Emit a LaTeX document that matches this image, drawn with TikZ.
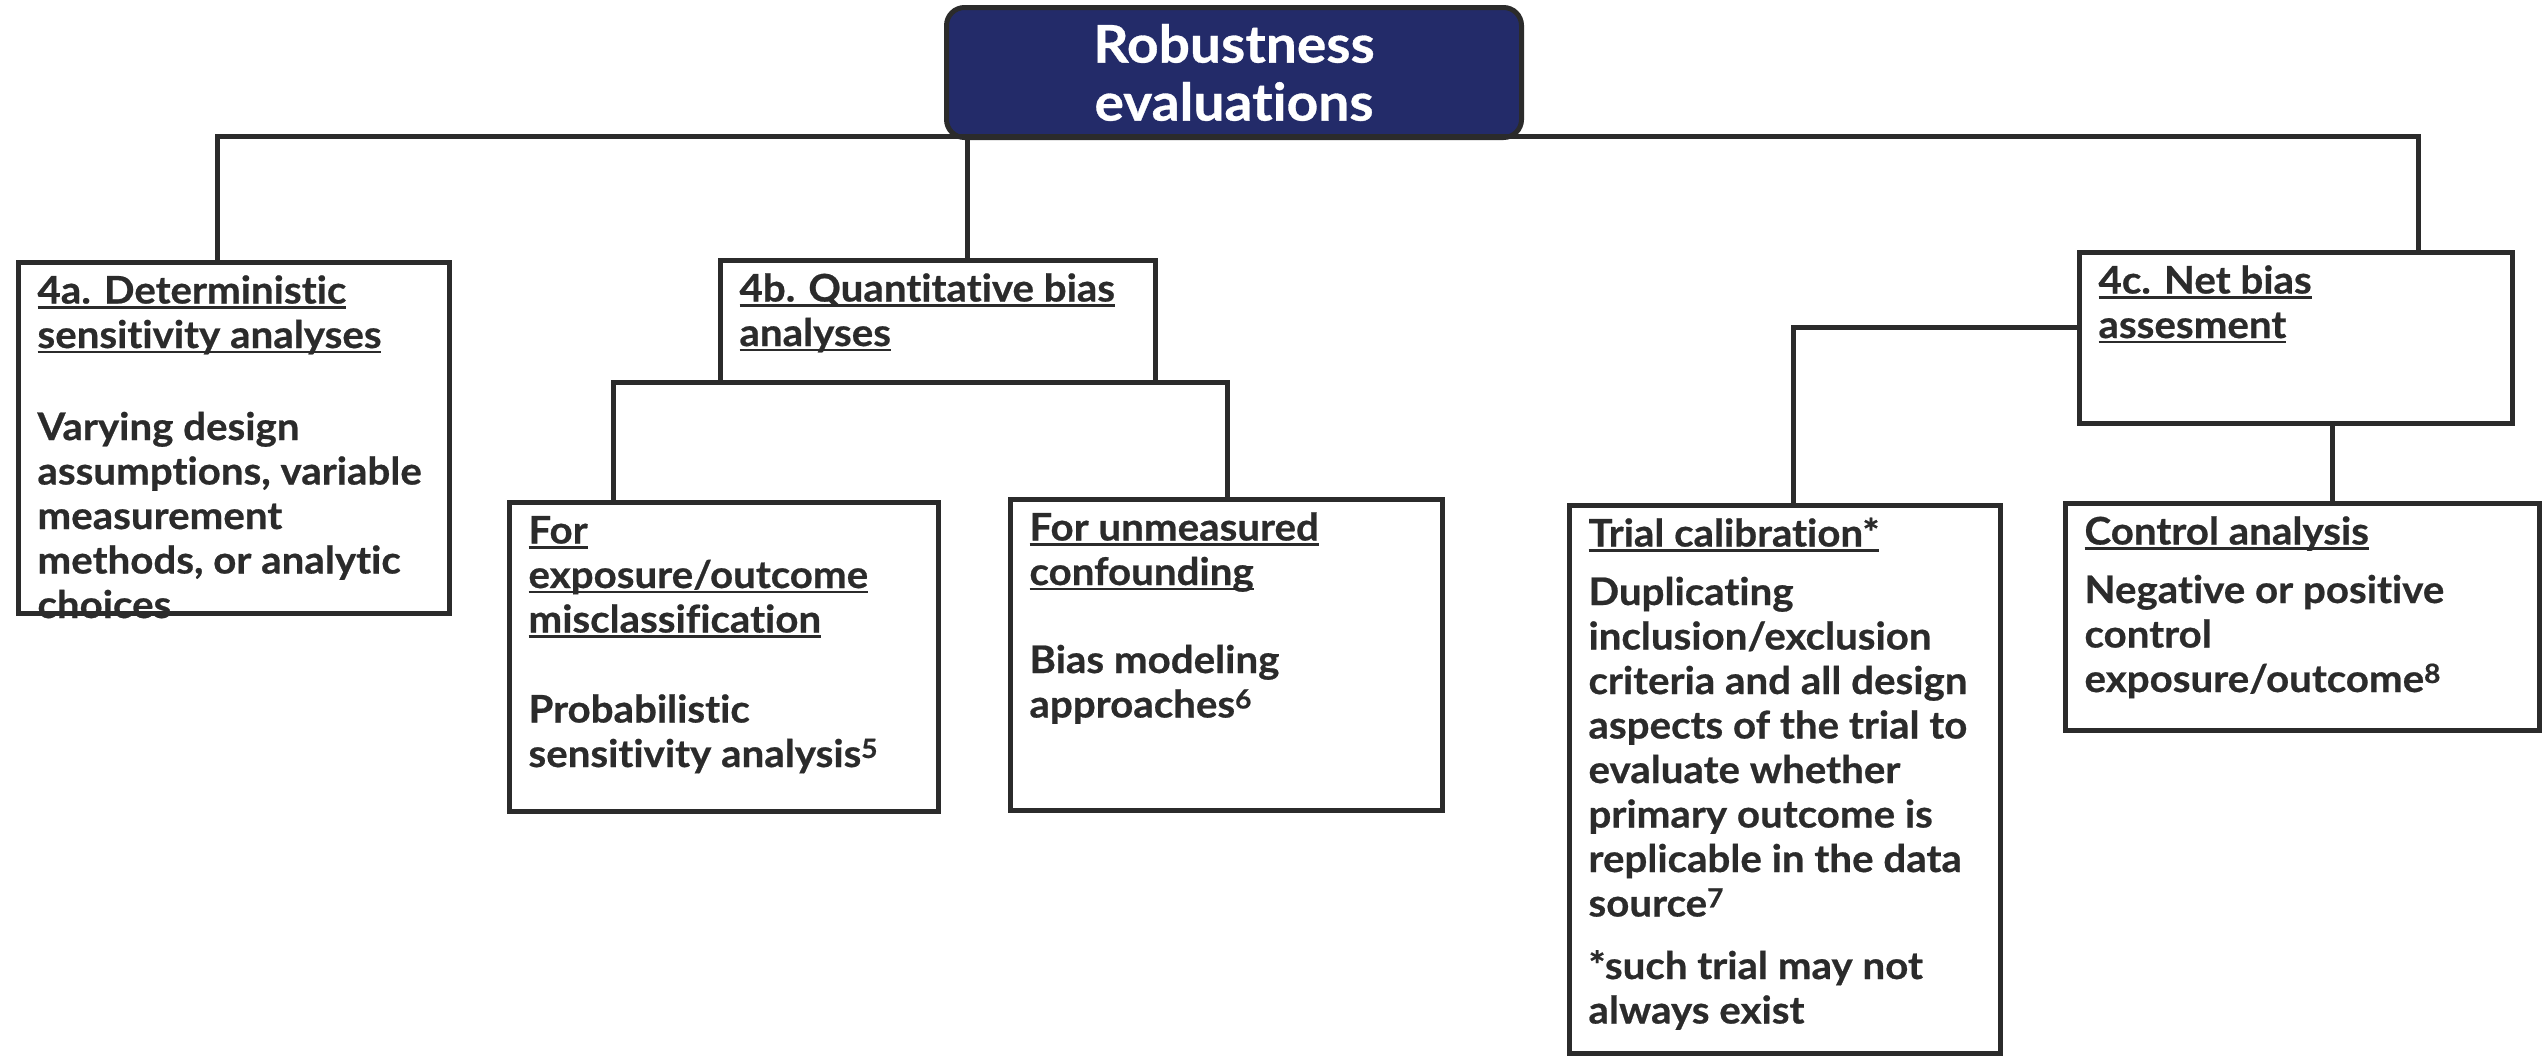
\documentclass[tikz,border=0pt]{standalone}
\usepackage{fontspec}
\setmainfont{Lato}[FakeStretch=1.06, Ligatures=NoCommon, BoldFeatures={FakeBold=0.6}]
\definecolor{ink}{HTML}{2B2B2B}
\definecolor{navy}{HTML}{232B69}
% underlined heading line, rule drawn at a fixed depth below the baseline
\newsavebox\ulbox
\newcommand\ulh[1]{\leavevmode\sbox\ulbox{#1}\rlap{\rule[-5pt]{\wd\ulbox}{2.5pt}}\usebox\ulbox}
% top-aligned text block of given width and height
\newcommand\cell[3]{\parbox[t][#2][t]{#1}{\raggedright\rule{0pt}{30pt}#3}}
\begin{document}
\begin{tikzpicture}[x=1pt,y=-1pt,
  box/.style={draw=ink, line width=5pt, fill=white, rectangle, anchor=north west,
    outer sep=0pt, inner xsep=19pt, inner ysep=11pt, text=ink,
    font=\fontsize{38pt}{44.5pt}\selectfont\bfseries},
  rootbox/.style={draw=ink, line width=5pt, fill=navy, rectangle, rounded corners=18pt,
    anchor=north west, outer sep=0pt, inner sep=0pt, text=white, align=center,
    minimum width=575pt, minimum height=130pt,
    font=\fontsize{52pt}{58pt}\selectfont\bfseries},
  link/.style={draw=ink, line width=5pt, line join=miter}]
\path[use as bounding box] (0,0) rectangle (2547,1060);

% root
\node[rootbox] (root) at (946.5,7.5) {Robustness\\evaluations};

% first level
\node[box] (n4a) at (18.5,262.5) {\cell{393pt}{329pt}{%
  \ulh{4a. Deterministic}\\
  \ulh{sensitivity analyses}\\[47.5pt]
  Varying design\\
  assumptions, variable\\
  measurement\\
  methods, or analytic\\
  choices}};
\node[box] (n4b) at (720.5,260.5) {\cell{397pt}{100pt}{%
  \ulh{4b. Quantitative bias}\\
  \ulh{analyses}}};
\node[box] (n4c) at (2079.5,252.5) {\cell{395pt}{149pt}{%
  \ulh{4c. Net bias}\\
  \ulh{assesment}}};

% second level
\node[box] (nMis) at (509.5,502.5) {\cell{391pt}{287pt}{%
  \ulh{For}\\
  \ulh{exposure/outcome}\\
  \ulh{misclassification}\\[45.5pt]
  Probabilistic\\
  sensitivity analysis\textsuperscript{5}}};
\node[box] (nConf) at (1010.5,499.5) {\cell{394pt}{289pt}{%
  \ulh{For unmeasured}\\
  \ulh{confounding}\\[43.5pt]
  Bias modeling\\
  approaches\textsuperscript{6}}};
\node[box] (nTrial) at (1569.5,505.5) {\cell{393pt}{526pt}{%
  \ulh{Trial calibration*}\\[14pt]
  Duplicating\\
  inclusion/exclusion\\
  criteria and all design\\
  aspects of the trial to\\
  evaluate whether\\
  primary outcome is\\
  replicable in the data\\
  source\textsuperscript{7}\\[18pt]
  *such trial may not\\
  always exist}};
\node[box] (nCtrl) at (2065.5,503.5) {\cell{436pt}{205pt}{%
  \ulh{Control analysis}\\[14pt]
  Negative or positive\\
  control\\
  exposure/outcome\textsuperscript{8}}};

% bus under the root
\coordinate (busL) at (217,136);
\coordinate (busR) at (2418,136);
\coordinate (busB) at (967,136);
\draw[link] (n4a.north -| busL) -- (busL) -- (busR) -- (n4c.north -| busR);
\draw[link] (busB) -- (n4b.north -| busB);

% 4b branches
\coordinate (bL) at (613,382);
\coordinate (bR) at (1227,382);
\draw[link] (nMis.north -| bL) -- (bL) -- (bR) -- (nConf.north -| bR);

% 4c branches
\coordinate (cL) at (1793,327);
\draw[link] (n4c.west |- cL) -- (cL) -- (nTrial.north -| cL);
\coordinate (cC) at (2332,460);
\draw[link] (n4c.south -| cC) -- (nCtrl.north -| cC);
\end{tikzpicture}
\end{document}
